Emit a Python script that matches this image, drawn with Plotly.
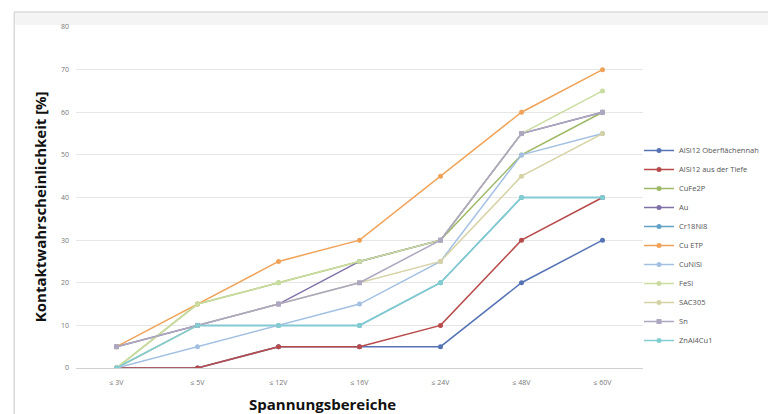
import plotly.graph_objects as go

categories = ["≤ 3V", "≤ 5V", "≤ 12V", "≤ 16V", "≤ 24V", "≤ 48V", "≤ 60V"]

alsi12_oberflaeche = [0, 0, 5, 5, 5, 20, 30]
alsi12_tiefe = [0, 0, 5, 5, 10, 30, 40]
cufe2p = [0, 15, 20, 25, 30, 50, 60]
au = [5, 10, 15, 25, 30, 55, 60]
cr18ni8 = [0, 10, 10, 10, 20, 40, 40]
cu_etp = [5, 15, 25, 30, 45, 60, 70]
cunisi = [0, 5, 10, 15, 25, 50, 55]
fesi = [0, 15, 20, 25, 30, 55, 65]
sac305 = [0, 10, 15, 20, 25, 45, 55]
sn = [5, 10, 15, 20, 30, 55, 60]
znal4cu1 = [0, 10, 10, 10, 20, 40, 40]

series_names = ["AlSi12 Oberflächennah", "AlSi12 aus der Tiefe", "CuFe2P", "Au", "Cr18Ni8",
                "Cu ETP", "CuNiSi", "FeSi", "SAC305", "Sn", "ZnAl4Cu1"]
series_values = [alsi12_oberflaeche, alsi12_tiefe, cufe2p, au, cr18ni8, cu_etp, cunisi,
                 fesi, sac305, sn, znal4cu1]
colors = ["#5573B5", "#B84A4A", "#9DB865", "#8070A8", "#62A2C6", "#F0A358", "#A3C0E2",
          "#CADDA0", "#D6D2A6", "#ADA7BF", "#82CDD2"]

y_ticks = [0, 10, 20, 30, 40, 50, 60, 70, 80]

fig = go.Figure()
for name, vals, col in zip(series_names, series_values, colors):
    fig.add_trace(go.Scatter(
        x=categories, y=vals, name=name, mode="lines+markers",
        line=dict(color=col, width=1.5),
        marker=dict(color=col, size=5, symbol="square" if name == "Sn" else "circle"),
    ))

# page has an 8px body margin, so figure coords = reference pixel coords - 8
OFF = 8
W, H = 768, 406
L = 76 - OFF
T = 27 - OFF
plot_right = 645 - OFF
plot_bottom = 368 - OFF
R = W - plot_right
B = H - plot_bottom
pw = W - L - R
ph = H - T - B

def px_x(p):
    return (p - OFF - L) / pw

def px_y(p):
    return (plot_bottom - (p - OFF)) / ph

fig.update_layout(
    width=W, height=H,
    margin=dict(l=L, r=R, t=T, b=B),
    paper_bgcolor="white", plot_bgcolor="white",
    font=dict(family="Open Sans", color="#666666"),
    showlegend=True,
    legend=dict(x=px_x(641), xanchor="left", y=px_y(136), yanchor="top",
                font=dict(size=7.5, color="#555555"), itemwidth=30,
                bgcolor="rgba(0,0,0,0)"),
    xaxis=dict(type="category", range=[-0.5, 6.5], showgrid=False,
               showline=True, linecolor="#d0d0d0", linewidth=1,
               ticks="", tickfont=dict(size=7, color="#777777"), ticklabelstandoff=8),
    yaxis=dict(range=[0, 80], tickvals=y_ticks, showgrid=True, gridcolor="#e6e6e6",
               zeroline=False, showline=False, tickfont=dict(size=7, color="#777777"),
               ticklabelstandoff=6),
    shapes=[
        dict(type="rect", xref="paper", yref="paper",
             x0=px_x(14), x1=px_x(800), y0=px_y(440), y1=px_y(12),
             line=dict(color="#c8c8c8", width=1), fillcolor="rgba(0,0,0,0)", layer="below"),
        dict(type="rect", xref="paper", yref="paper",
             x0=px_x(15), x1=px_x(800), y0=px_y(25), y1=px_y(13),
             line=dict(width=0), fillcolor="#f4f4f4", layer="below"),
    ],
    annotations=[
        dict(text="<b>Spannungsbereiche</b>", xref="paper", yref="paper",
             x=px_x(323), y=px_y(404), xanchor="center", yanchor="middle", showarrow=False,
             font=dict(size=15, color="#111111", family="Open Sans")),
        dict(text="<b>Kontaktwahrscheinlichkeit [%]</b>", xref="paper", yref="paper",
             x=px_x(40), y=px_y(207), xanchor="center", yanchor="middle", showarrow=False,
             textangle=-90, font=dict(size=15, color="#111111", family="Open Sans")),
    ],
)

fig.write_html("out.html")
